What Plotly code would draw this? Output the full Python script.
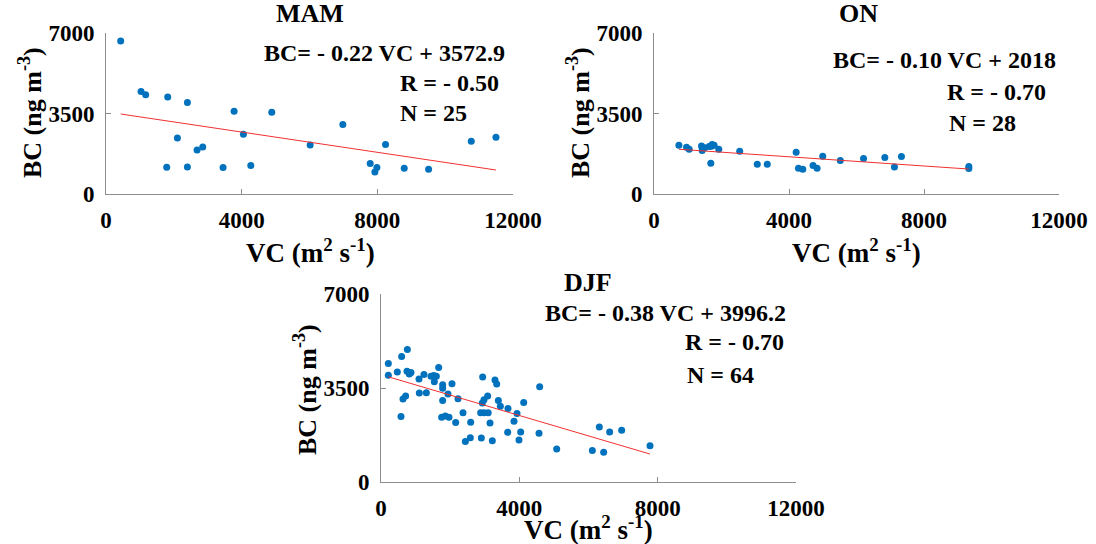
import plotly.graph_objects as go

W, H = 1096, 544

# ---------------- data ----------------
seasons = ["MAM", "ON", "DJF"]

mam_vc = [433, 1033, 1170, 1820, 2400, 3777, 4888, 6983, 2105, 4052, 2685, 2852, 6019,
          8242, 10770, 11498, 1790, 2400, 3452, 4269, 7790, 7987, 7928, 8793, 9511]
mam_bc = [6652, 4459, 4314, 4212, 3980, 3602, 3558, 3021, 2440, 2600, 1917, 2048, 2135,
          2150, 2295, 2469, 1162, 1176, 1147, 1235, 1322, 1147, 959, 1118, 1075]

on_vc = [738, 964, 1043, 1407, 1427, 1633, 1722, 1781, 1919, 1683, 1500, 1700, 2539,
         3060, 3356, 4212, 4280, 4408, 4713, 4832, 4999, 5520, 6209, 6839, 7124, 7331,
         9328, 9328]
on_bc = [2120, 2033, 1946, 2091, 1888, 2062, 2149, 2120, 1946, 1336, 2010, 2080, 1859,
         1293, 1293, 1815, 1118, 1075, 1235, 1118, 1641, 1452, 1540, 1583, 1176, 1627,
         1191, 1104]

djf_vc = [212, 212, 597, 762, 472, 752, 819, 867, 1099, 1243, 1446, 1523, 1600, 1668,
          1542, 1783, 1783, 2053, 1937, 1108, 1311, 636, 713, 578, 1783, 2227, 1754,
          1860, 1966, 2159, 2371, 2593, 2439, 2583, 2901, 3219, 2940, 3296, 3345, 3084,
          2978, 2930, 2882, 2978, 3152, 3393, 3451, 3672, 3933, 3846, 3663, 3990, 4039,
          4126, 4588, 4569, 5080, 6111, 6439, 6313, 6612, 6959, 7779, 3100]
djf_bc = [4412, 3975, 4675, 4937, 4100, 4125, 4025, 4075, 3837, 4000, 3937, 3962, 3937,
          4262, 3737, 3625, 3487, 3662, 3275, 3312, 3325, 3087, 3200, 2437, 3037, 3100,
          2412, 2462, 2412, 2212, 2575, 2225, 1512, 1650, 1637, 1537, 3912, 3800, 3650,
          3200, 3062, 2937, 2575, 2575, 2200, 3037, 2825, 2737, 2550, 2262, 1850, 1562,
          1862, 2962, 3550, 1812, 1225, 1175, 1112, 2050, 1862, 1925, 1350, 2580]

slopes = [-0.22, -0.10, -0.38]
intercepts = [3572.9, 2018, 3996.2]
eq_texts = ["BC= - 0.22 VC + 3572.9", "BC= - 0.10 VC + 2018", "BC= - 0.38 VC + 3996.2"]
r_texts = ["R = - 0.50", "R = - 0.70", "R = - 0.70"]
n_texts = ["N = 25", "N = 28", "N = 64"]

x_ticks = [0, 4000, 8000, 12000]
x_ticktext = ["0", "4000", "8000", "12000"]
y_ticks = [0, 3500, 7000]
y_ticktext = ["0", "3500", "7000"]

# ---------------- layout helpers ----------------
def px(x):
    return x / W

def py(y):
    return 1 - y / H

FONT = "Liberation Serif"
BLUE = "#0072BD"

# axis boxes in pixels: (left, right, top, bottom)
boxes = [(106, 513, 33, 194), (654, 1059, 33, 194), (381, 796, 294, 482)]

datasets = [(mam_vc, mam_bc), (on_vc, on_bc), (djf_vc, djf_bc)]

fig = go.Figure()
annotations = []
layout = {}

for i, ((vc, bc), (l, r, t, b)) in enumerate(zip(datasets, boxes)):
    sfx = "" if i == 0 else str(i + 1)
    xa, ya = "x" + sfx, "y" + sfx
    fig.add_trace(go.Scatter(x=vc, y=bc, mode="markers", xaxis=xa, yaxis=ya,
                             marker=dict(color=BLUE, size=7), showlegend=False))
    x0, x1 = min(vc), max(vc)
    fig.add_trace(go.Scatter(x=[x0, x1],
                             y=[slopes[i] * x0 + intercepts[i], slopes[i] * x1 + intercepts[i]],
                             mode="lines", xaxis=xa, yaxis=ya,
                             line=dict(color="#f03030", width=1), showlegend=False))
    common = dict(showgrid=False, zeroline=False, showline=True, linecolor="#8c8c8c",
                  linewidth=1, ticks="inside", ticklen=5, tickcolor="#8c8c8c",
                  mirror=False, automargin=False,
                  tickfont=dict(family=FONT, size=23, color="black", weight="bold"))
    layout["xaxis" + sfx] = dict(common, domain=[px(l), px(r)], range=[0, 12000],
                                 tickvals=x_ticks, ticktext=x_ticktext, anchor=ya,
                                 ticklabelstandoff=5)
    layout["yaxis" + sfx] = dict(common, domain=[py(b), py(t)], range=[0, 7000],
                                 tickvals=y_ticks, ticktext=y_ticktext, anchor=xa,
                                 ticklabelstandoff=6)

# titles
title_pos = [(310, 13), (858, 13), (588, 282)]
for name, (x, y) in zip(seasons, title_pos):
    annotations.append(dict(text="<b>%s</b>" % name, x=px(x), y=py(y), xref="paper",
                            yref="paper", showarrow=False, xanchor="center", yanchor="middle",
                            font=dict(family=FONT, size=26, color="black")))

# axis titles
xt_pos = [(310, 251), (856, 251), (588, 528)]
for (x, y) in xt_pos:
    annotations.append(dict(text="<b>VC (m<sup>2</sup> s<sup>-1</sup>)</b>", x=px(x), y=py(y),
                            xref="paper", yref="paper", showarrow=False, xanchor="center",
                            yanchor="middle", font=dict(family=FONT, size=27, color="black")))
yt_pos = [(30, 113), (578, 113), (305, 390)]
for (x, y) in yt_pos:
    annotations.append(dict(text="<b>BC (ng m<sup>-3</sup>)</b>", x=px(x), y=py(y),
                            xref="paper", yref="paper", showarrow=False, textangle=-90,
                            xanchor="center", yanchor="middle",
                            font=dict(family=FONT, size=26, color="black")))

# equation text: (eq left, eq y, R left, R y, N left, N y)
txt_pos = [(262, 53, 398, 83, 398, 113),
           (831, 60, 945, 92, 947, 123),
           (543, 313, 683, 342, 685, 375)]
for i, (ex, ey, rx, ry, nx, ny) in enumerate(txt_pos):
    for txt, x, y in [(eq_texts[i], ex, ey), (r_texts[i], rx, ry), (n_texts[i], nx, ny)]:
        annotations.append(dict(text="<b>%s</b>" % txt, x=px(x), y=py(y), xref="paper",
                                yref="paper", showarrow=False, xanchor="left",
                                yanchor="middle",
                                font=dict(family=FONT, size=24, color="black")))

fig.update_layout(width=W, height=H, margin=dict(l=0, r=0, t=0, b=0),
                  paper_bgcolor="white", plot_bgcolor="white",
                  annotations=annotations, **layout)

fig.write_html("out.html")
